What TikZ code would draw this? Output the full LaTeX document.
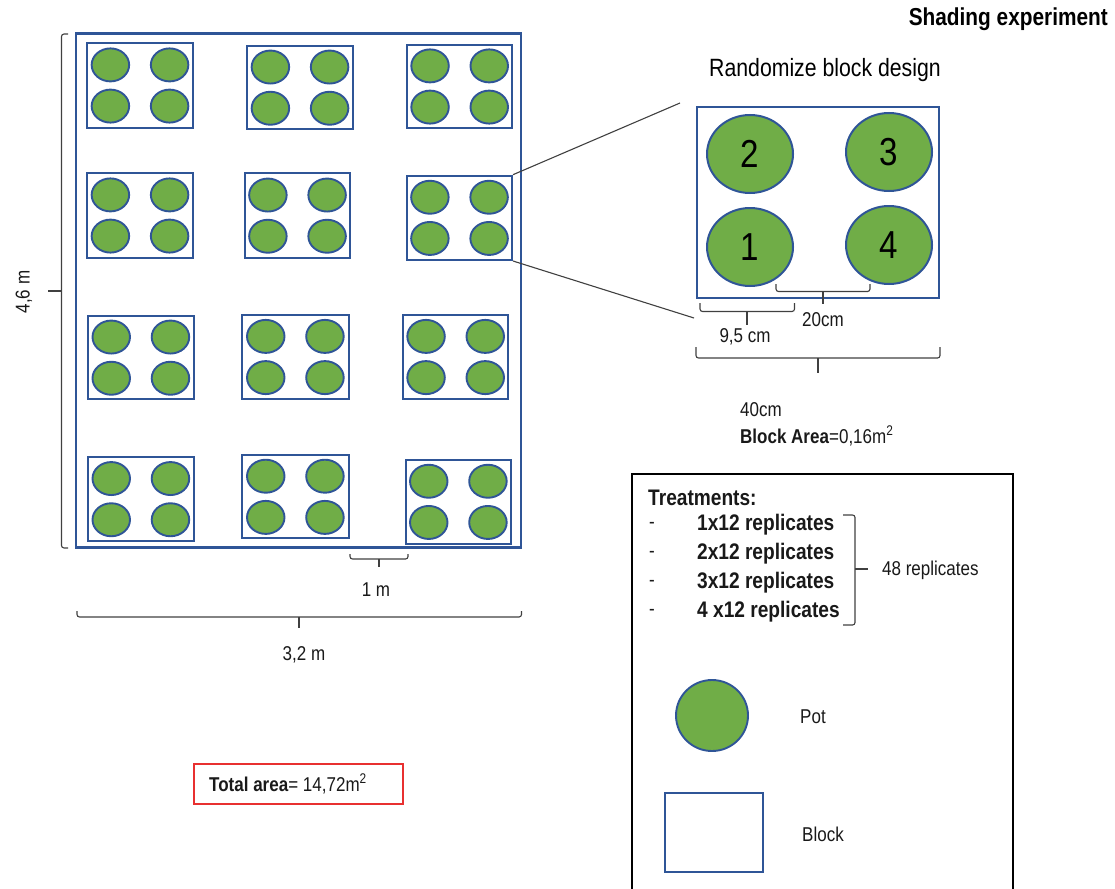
\documentclass[tikz,border=0pt]{standalone}
\usepackage{fontspec}
\setmainfont{Liberation Sans}[FakeStretch=0.85]
\usetikzlibrary{shapes.geometric,fit}
\definecolor{potgreen}{HTML}{70AD47}
\definecolor{potblue}{HTML}{2F5597}
\definecolor{dimgray}{HTML}{404040}
\definecolor{boxred}{HTML}{E83030}
\tikzset{
  blockbox/.style={draw=potblue, line width=2pt, rectangle, inner sep=0pt},
  pot/.style={ellipse, draw=potblue, fill=potgreen, line width=1.9pt, minimum width=37.5pt, minimum height=33pt, inner sep=0pt},
  bigpot/.style={ellipse, draw=potblue, fill=potgreen, line width=2pt, minimum width=86pt, minimum height=78pt, inner sep=0pt, font=\fontsize{39}{41}\selectfont},
  dimline/.style={draw=dimgray, line width=1.1pt, rounded corners=2.5pt},
  zoomline/.style={draw=dimgray, line width=1.1pt},
  lbl/.style={inner sep=0pt, font=\fontsize{20}{22}\selectfont, text=black!90},
  blbl/.style={inner sep=0pt, font=\fontsize{22.5}{24}\selectfont\bfseries, text=black!90, anchor=west},
}
\begin{document}
\begin{tikzpicture}[x=1pt,y=-1pt]
\useasboundingbox (0,0) rectangle (1115,888);

% title
\node[inner sep=0pt, anchor=east, font=\fontsize{24.5}{26}\selectfont\bfseries] (title) at (1108,19) {Shading experiment};

% main field
\node[blockbox, line width=2.2pt, fit={(76,33.5) (521,547.5)}] (field) {};

% blocks with pots
\foreach \n/\xa/\ya/\xb/\yb in {
  1/86.7/43.3/193.3/127.7, 2/247.3/46/352.7/129.3, 3/407/44.7/512.3/128.3,
  4/86.7/173.3/193.3/257.7, 5/244.7/173.3/350.3/258, 6/407/175.7/512/260,
  7/88/316/193.7/399.3, 8/242/314.7/348.7/399.3, 9/403/314.7/508.3/399.3,
  10/88/457/193.7/541.3, 11/242/455.3/348.7/538.3, 12/405.7/459.7/511/544}{
  \node[blockbox, fit={(\xa,\ya) (\xb,\yb)}] (b\n) {};
  \node[pot] (p\n a) at ([shift={(-29.6,-20.6)}]b\n.center) {};
  \node[pot] (p\n b) at ([shift={(29.6,-20.6)}]b\n.center) {};
  \node[pot] (p\n c) at ([shift={(-29.6,20.6)}]b\n.center) {};
  \node[pot] (p\n d) at ([shift={(29.6,20.6)}]b\n.center) {};
}

% dimension brackets of field
\draw[dimline] (68,34) -- (61.5,34) -- (61.5,548) -- (68,548);
\draw[zoomline] (61.5,291) -- (48,291);
\node[lbl, rotate=90] (h46) at (24,292) {4,6 m};

\draw[dimline] (350,554) -- (350,559) -- (408,559) -- (408,554);
\draw[zoomline] (379,559) -- (379,567);
\node[lbl] (d1m) at (376,590) {1 m};

\draw[dimline] (77,611) -- (77,617) -- (521.5,617) -- (521.5,611);
\draw[zoomline] (299,617) -- (299,628);
\node[lbl] (d32) at (304,655) {3,2 m};

% detail block
\node[inner sep=0pt, anchor=west, font=\fontsize{25}{27}\selectfont] (rbd) at (709,70) {Randomize block design};
\node[blockbox, fit={(697,107) (939,298)}] (detail) {};
\node[bigpot] (d2) at (750,154) {2};
\node[bigpot] (d3) at (889,152) {3};
\node[bigpot] (d1) at (750,247) {1};
\node[bigpot] (d4) at (889,245) {4};

\coordinate (zA) at (680,103);
\coordinate (zB) at (694,318);
\draw[zoomline] (b6.north east) -- (zA);
\draw[zoomline] (b6.south east) -- (zB);

\draw[dimline] (700,303) -- (700,311.5) -- (794.5,311.5) -- (794.5,303);
\draw[zoomline] (747,311.5) -- (747,325);
\node[lbl] (d95) at (745,337) {9,5 cm};

\draw[dimline] (776,284) -- (776,291.5) -- (870,291.5) -- (870,284);
\draw[zoomline] (823,291.5) -- (823,304);
\node[lbl] (d20) at (823,320) {20cm};

\draw[dimline] (696,347) -- (696,358) -- (940,358) -- (940,347);
\draw[zoomline] (818,358) -- (818,373);
\node[lbl, anchor=west] (d40) at (740,410) {40cm};
\node[lbl, anchor=west] (barea) at (740,436) {\textbf{Block Area}=0,16m\textsuperscript{2}};

% legend box
\draw[black, line width=1.3pt] (632,892) -- (632,474) -- (1013,474) -- (1013,892);
\node[blbl] (treat) at (648,498) {Treatments:};
\foreach \i/\yy/\txt in {1/525/1x12 replicates, 2/554/2x12 replicates, 3/583/3x12 replicates, 4/612/4 x12 replicates}{
  \node[lbl, anchor=west] (dash\i) at (649,\yy) {-};
  \node[blbl] (tr\i) at (697,\yy) {\txt};
}
\draw[dimline] (843,515) -- (855,515) -- (855,625) -- (843,625);
\draw[zoomline] (855,569) -- (868,569);
\node[lbl, anchor=west] (r48) at (882,570) {48 replicates};

\node[pot, minimum width=72pt, minimum height=71pt, line width=1.9pt] (lpot) at (712,715.5) {};
\node[lbl, anchor=west] (lpotl) at (800,717) {Pot};
\node[blockbox, fit={(665,792.5) (763,872)}] (lblock) {};
\node[lbl, anchor=west] (lblockl) at (802,834) {Block};

% total area
\node[draw=boxred, line width=1.8pt, rectangle, minimum width=209pt, minimum height=40.5pt, inner sep=0pt] (tabox) at (298.2,783.9) {};
\node[lbl, anchor=west] (tatext) at (209,784) {\textbf{Total area}= 14,72m\textsuperscript{2}};
\end{tikzpicture}
\end{document}
